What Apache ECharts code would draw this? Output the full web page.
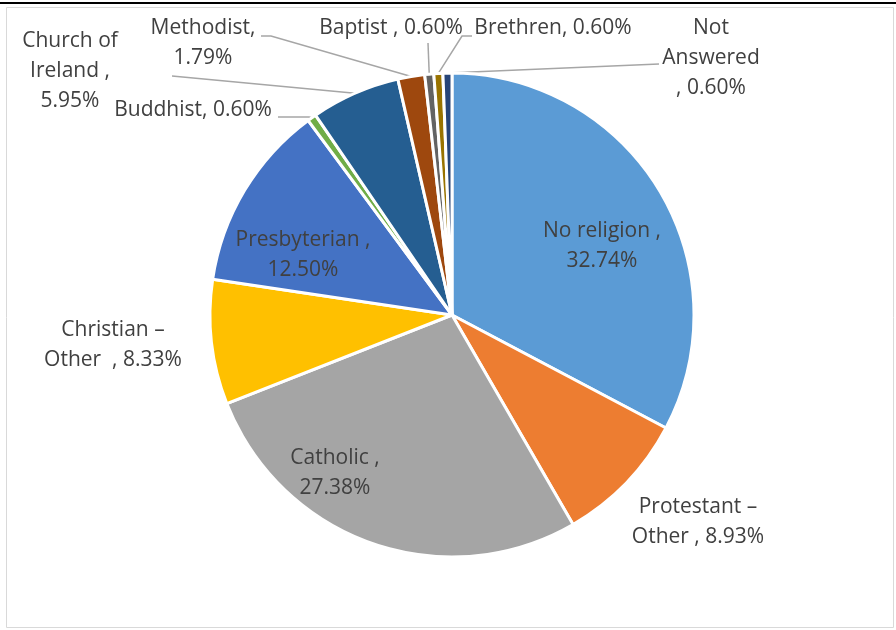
<!DOCTYPE html>
<html>
<head>
<meta charset="utf-8">
<script src="https://cdn.jsdelivr.net/npm/echarts@6/dist/echarts.min.js"></script>
<style>
  html, body { margin: 0; padding: 0; background: #fff; }
  #chart { width: 896px; height: 630px; }
</style>
</head>
<body>
<div id="chart"></div>
<script>
  // slices, clockwise from 12 o'clock
  const categories = ['No religion', 'Protestant – Other', 'Catholic', 'Christian – Other', 'Presbyterian',
    'Buddhist', 'Church of Ireland', 'Methodist', 'Baptist', 'Brethren', 'Not Answered']
  const values = [32.74, 8.93, 27.38, 8.33, 12.50, 0.60, 5.95, 1.79, 0.60, 0.60, 0.60]
  // label text as in the picture ({v} = value)
  const labelTexts = ['No religion ,\n{v}', 'Protestant –\nOther , {v}', 'Catholic ,\n{v}', 'Christian –\nOther  , {v}',
    'Presbyterian ,\n{v}', 'Buddhist, {v}', 'Church of\nIreland ,\n{v}', 'Methodist,\n{v}', 'Baptist , {v}',
    'Brethren, {v}', 'Not\nAnswered\n, {v}']
  const colors = ['#5B9BD5', '#ED7D31', '#A5A5A5', '#FFC000', '#4472C4', '#70AD47', '#255E91', '#9E480E',
    '#636363', '#997300', '#264478']

  // label placement: centre of text block, and leader line [bend, end] if any
  const labelPos = [
    {x: 602, y: 246}, {x: 698, y: 522}, {x: 335, y: 473}, {x: 113, y: 345}, {x: 303, y: 255},
    {x: 193, y: 110, line: [[309, 117], [278, 117]]},
    {x: 70, y: 71, line: [[172, 76], [172, 76]]},
    {x: 203, y: 43, line: [[271, 36], [261, 36]]},
    {x: 391, y: 28, line: [[428, 43], [428, 43]]},
    {x: 553, y: 28, line: [[462, 36], [472, 36]]},
    {x: 711, y: 58, line: [[659, 64], [659, 64]]}
  ]

  const chart = echarts.init(document.getElementById('chart'))
  chart.setOption({
    animation: false,
    graphic: [
      {type: 'rect', shape: {x: 6.5, y: 7.5, width: 887, height: 620}, style: {fill: 'none', stroke: '#d9d9d9', lineWidth: 1}},
      {type: 'rect', shape: {x: 0, y: 2, width: 896, height: 2}, style: {fill: '#000'}}
    ],
    series: [{
      type: 'pie',
      center: [452, 315],
      radius: [0, 242],
      startAngle: 90,
      clockwise: true,
      avoidLabelOverlap: false,
      itemStyle: {borderColor: '#fff', borderWidth: 3},
      label: {
        show: true,
        position: 'outside',
        color: '#404040',
        fontFamily: 'Open Sans',
        fontSize: 21,
        lineHeight: 30,
        align: 'center',
        formatter: p => labelTexts[p.dataIndex].replace('{v}', values[p.dataIndex].toFixed(2) + '%')
      },
      labelLine: {show: true, lineStyle: {color: '#a6a6a6', width: 1.5}},
      labelLayout: function (params) {
        const pos = labelPos[params.dataIndex]
        const out = {x: pos.x, y: pos.y, align: 'center', verticalAlign: 'middle'}
        if (pos.line && params.labelLinePoints) {
          out.labelLinePoints = [params.labelLinePoints[0], pos.line[0], pos.line[1]]
        }
        return out
      },
      data: categories.map((name, i) => ({
        name: name,
        value: values[i],
        itemStyle: {color: colors[i]},
        labelLine: {show: !!labelPos[i].line}
      }))
    }]
  })
</script>
</body>
</html>
